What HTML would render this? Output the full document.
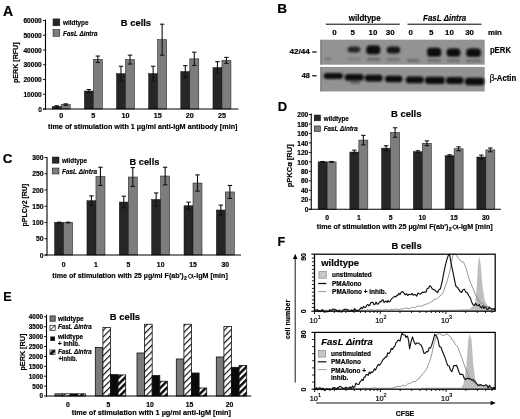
<!DOCTYPE html>
<html><head><meta charset="utf-8"><style>
html,body{margin:0;padding:0;background:#fff;width:520px;height:419px;overflow:hidden}
svg{display:block;filter:blur(0.35px)}
text{font-family:"Liberation Sans",sans-serif;stroke:#000;stroke-width:0.18px}
</style></head><body>
<svg width="520" height="419" viewBox="0 0 520 419" font-family="Liberation Sans, sans-serif">
<rect width="520" height="419" fill="#fff"/>
<text x="3.00" y="15.50" font-size="14" font-weight="bold">A</text>
<rect x="52.20" y="106.49" width="9.00" height="2.51" fill="#262626" stroke="#111" stroke-width="0.5"/>
<line x1="56.70" y1="105.76" x2="56.70" y2="107.23" stroke="#111" stroke-width="1.1"/>
<line x1="54.50" y1="105.76" x2="58.90" y2="105.76" stroke="#111" stroke-width="1.1"/>
<line x1="54.50" y1="107.23" x2="58.90" y2="107.23" stroke="#111" stroke-width="1.1"/>
<rect x="61.20" y="104.58" width="9.00" height="4.42" fill="#7d7d7d" stroke="#111" stroke-width="0.5"/>
<line x1="65.70" y1="103.84" x2="65.70" y2="105.31" stroke="#111" stroke-width="1.1"/>
<line x1="63.50" y1="103.84" x2="67.90" y2="103.84" stroke="#111" stroke-width="1.1"/>
<line x1="63.50" y1="105.31" x2="67.90" y2="105.31" stroke="#111" stroke-width="1.1"/>
<rect x="84.35" y="91.00" width="9.00" height="18.00" fill="#262626" stroke="#111" stroke-width="0.5"/>
<line x1="88.85" y1="89.53" x2="88.85" y2="92.48" stroke="#111" stroke-width="1.1"/>
<line x1="86.65" y1="89.53" x2="91.05" y2="89.53" stroke="#111" stroke-width="1.1"/>
<line x1="86.65" y1="92.48" x2="91.05" y2="92.48" stroke="#111" stroke-width="1.1"/>
<rect x="93.35" y="59.29" width="9.00" height="49.71" fill="#7d7d7d" stroke="#111" stroke-width="0.5"/>
<line x1="97.85" y1="56.05" x2="97.85" y2="62.54" stroke="#111" stroke-width="1.1"/>
<line x1="95.65" y1="56.05" x2="100.05" y2="56.05" stroke="#111" stroke-width="1.1"/>
<line x1="95.65" y1="62.54" x2="100.05" y2="62.54" stroke="#111" stroke-width="1.1"/>
<rect x="116.50" y="73.60" width="9.00" height="35.40" fill="#262626" stroke="#111" stroke-width="0.5"/>
<line x1="121.00" y1="66.22" x2="121.00" y2="80.97" stroke="#111" stroke-width="1.1"/>
<line x1="118.80" y1="66.22" x2="123.20" y2="66.22" stroke="#111" stroke-width="1.1"/>
<line x1="118.80" y1="80.97" x2="123.20" y2="80.97" stroke="#111" stroke-width="1.1"/>
<rect x="125.50" y="59.59" width="9.00" height="49.41" fill="#7d7d7d" stroke="#111" stroke-width="0.5"/>
<line x1="130.00" y1="55.16" x2="130.00" y2="64.01" stroke="#111" stroke-width="1.1"/>
<line x1="127.80" y1="55.16" x2="132.20" y2="55.16" stroke="#111" stroke-width="1.1"/>
<line x1="127.80" y1="64.01" x2="132.20" y2="64.01" stroke="#111" stroke-width="1.1"/>
<rect x="148.65" y="73.60" width="9.00" height="35.40" fill="#262626" stroke="#111" stroke-width="0.5"/>
<line x1="153.15" y1="66.22" x2="153.15" y2="80.97" stroke="#111" stroke-width="1.1"/>
<line x1="150.95" y1="66.22" x2="155.35" y2="66.22" stroke="#111" stroke-width="1.1"/>
<line x1="150.95" y1="80.97" x2="155.35" y2="80.97" stroke="#111" stroke-width="1.1"/>
<rect x="157.65" y="39.67" width="9.00" height="69.33" fill="#7d7d7d" stroke="#111" stroke-width="0.5"/>
<line x1="162.15" y1="24.19" x2="162.15" y2="55.16" stroke="#111" stroke-width="1.1"/>
<line x1="159.95" y1="24.19" x2="164.35" y2="24.19" stroke="#111" stroke-width="1.1"/>
<line x1="159.95" y1="55.16" x2="164.35" y2="55.16" stroke="#111" stroke-width="1.1"/>
<rect x="180.80" y="71.53" width="9.00" height="37.47" fill="#262626" stroke="#111" stroke-width="0.5"/>
<line x1="185.30" y1="65.63" x2="185.30" y2="77.44" stroke="#111" stroke-width="1.1"/>
<line x1="183.10" y1="65.63" x2="187.50" y2="65.63" stroke="#111" stroke-width="1.1"/>
<line x1="183.10" y1="77.44" x2="187.50" y2="77.44" stroke="#111" stroke-width="1.1"/>
<rect x="189.80" y="58.85" width="9.00" height="50.15" fill="#7d7d7d" stroke="#111" stroke-width="0.5"/>
<line x1="194.30" y1="52.21" x2="194.30" y2="65.49" stroke="#111" stroke-width="1.1"/>
<line x1="192.10" y1="52.21" x2="196.50" y2="52.21" stroke="#111" stroke-width="1.1"/>
<line x1="192.10" y1="65.49" x2="196.50" y2="65.49" stroke="#111" stroke-width="1.1"/>
<rect x="212.95" y="67.55" width="9.00" height="41.45" fill="#262626" stroke="#111" stroke-width="0.5"/>
<line x1="217.45" y1="61.65" x2="217.45" y2="73.45" stroke="#111" stroke-width="1.1"/>
<line x1="215.25" y1="61.65" x2="219.65" y2="61.65" stroke="#111" stroke-width="1.1"/>
<line x1="215.25" y1="73.45" x2="219.65" y2="73.45" stroke="#111" stroke-width="1.1"/>
<rect x="221.95" y="60.33" width="9.00" height="48.67" fill="#7d7d7d" stroke="#111" stroke-width="0.5"/>
<line x1="226.45" y1="57.38" x2="226.45" y2="63.28" stroke="#111" stroke-width="1.1"/>
<line x1="224.25" y1="57.38" x2="228.65" y2="57.38" stroke="#111" stroke-width="1.1"/>
<line x1="224.25" y1="63.28" x2="228.65" y2="63.28" stroke="#111" stroke-width="1.1"/>
<line x1="45.50" y1="19.50" x2="45.50" y2="109.50" stroke="#000" stroke-width="1.1"/>
<line x1="43.00" y1="109.00" x2="238.50" y2="109.00" stroke="#000" stroke-width="1.1"/>
<line x1="43.00" y1="109.00" x2="45.50" y2="109.00" stroke="#000" stroke-width="0.9"/>
<text x="41.80" y="111.64" font-size="6.6" font-weight="bold" text-anchor="end">0</text>
<line x1="43.00" y1="94.25" x2="45.50" y2="94.25" stroke="#000" stroke-width="0.9"/>
<text x="41.80" y="96.89" font-size="6.6" font-weight="bold" text-anchor="end">10000</text>
<line x1="43.00" y1="79.50" x2="45.50" y2="79.50" stroke="#000" stroke-width="0.9"/>
<text x="41.80" y="82.14" font-size="6.6" font-weight="bold" text-anchor="end">20000</text>
<line x1="43.00" y1="64.75" x2="45.50" y2="64.75" stroke="#000" stroke-width="0.9"/>
<text x="41.80" y="67.39" font-size="6.6" font-weight="bold" text-anchor="end">30000</text>
<line x1="43.00" y1="50.00" x2="45.50" y2="50.00" stroke="#000" stroke-width="0.9"/>
<text x="41.80" y="52.64" font-size="6.6" font-weight="bold" text-anchor="end">40000</text>
<line x1="43.00" y1="35.25" x2="45.50" y2="35.25" stroke="#000" stroke-width="0.9"/>
<text x="41.80" y="37.89" font-size="6.6" font-weight="bold" text-anchor="end">50000</text>
<line x1="43.00" y1="20.50" x2="45.50" y2="20.50" stroke="#000" stroke-width="0.9"/>
<text x="41.80" y="23.14" font-size="6.6" font-weight="bold" text-anchor="end">60000</text>
<rect x="53.00" y="18.90" width="6.80" height="6.90" fill="#262626" stroke="#111" stroke-width="0.5"/>
<rect x="53.00" y="29.50" width="6.80" height="6.80" fill="#7d7d7d" stroke="#111" stroke-width="0.5"/>
<text x="63.00" y="25.40" font-size="7.6" font-weight="bold" textLength="25.5" lengthAdjust="spacingAndGlyphs">wildtype</text>
<text x="63.00" y="36.00" font-size="7.6" font-weight="bold" font-style="italic" textLength="34.5" lengthAdjust="spacingAndGlyphs">FasL Δintra</text>
<text x="120.80" y="26.20" font-size="9.6" font-weight="bold" textLength="30.3" lengthAdjust="spacingAndGlyphs">B cells</text>
<text x="61.20" y="118.00" font-size="7.2" font-weight="bold" text-anchor="middle">0</text>
<text x="93.35" y="118.00" font-size="7.2" font-weight="bold" text-anchor="middle">5</text>
<text x="125.50" y="118.00" font-size="7.2" font-weight="bold" text-anchor="middle">10</text>
<text x="157.65" y="118.00" font-size="7.2" font-weight="bold" text-anchor="middle">15</text>
<text x="189.80" y="118.00" font-size="7.2" font-weight="bold" text-anchor="middle">20</text>
<text x="221.95" y="118.00" font-size="7.2" font-weight="bold" text-anchor="middle">25</text>
<text x="48.00" y="129.40" font-size="7.9" font-weight="bold" textLength="189.5" lengthAdjust="spacingAndGlyphs">time of stimulation with 1 µg/ml anti-IgM antibody [min]</text>
<text x="18.20" y="83.00" font-size="7.3" font-weight="bold" textLength="40.6" lengthAdjust="spacingAndGlyphs" transform="rotate(-90 18.20 83.00)">pERK [RFU]</text>
<text x="277.30" y="13.30" font-size="13.6" font-weight="bold">B</text>
<text x="348.80" y="21.20" font-size="8.4" font-weight="bold" textLength="31.8" lengthAdjust="spacingAndGlyphs">wildtype</text>
<line x1="325.80" y1="24.20" x2="399.80" y2="24.20" stroke="#000" stroke-width="1.0"/>
<text x="423.10" y="20.70" font-size="8.4" font-weight="bold" font-style="italic" textLength="43.1" lengthAdjust="spacingAndGlyphs">FasL Δintra</text>
<line x1="407.50" y1="24.20" x2="481.50" y2="24.20" stroke="#000" stroke-width="1.0"/>
<text x="334.40" y="35.10" font-size="7.9" font-weight="bold" text-anchor="middle">0</text>
<text x="352.70" y="35.10" font-size="7.9" font-weight="bold" text-anchor="middle">5</text>
<text x="372.90" y="35.10" font-size="7.9" font-weight="bold" text-anchor="middle">10</text>
<text x="390.20" y="35.10" font-size="7.9" font-weight="bold" text-anchor="middle">30</text>
<text x="410.80" y="35.10" font-size="7.9" font-weight="bold" text-anchor="middle">0</text>
<text x="431.20" y="35.10" font-size="7.9" font-weight="bold" text-anchor="middle">5</text>
<text x="449.40" y="35.10" font-size="7.9" font-weight="bold" text-anchor="middle">10</text>
<text x="469.60" y="35.10" font-size="7.9" font-weight="bold" text-anchor="middle">30</text>
<text x="487.90" y="35.10" font-size="7.9" font-weight="bold" textLength="14" lengthAdjust="spacingAndGlyphs">min</text>
<text x="289.50" y="53.90" font-size="7.4" font-weight="bold" textLength="20.3" lengthAdjust="spacingAndGlyphs">42/44</text>
<line x1="312.20" y1="52.00" x2="316.60" y2="52.00" stroke="#000" stroke-width="1.2"/>
<text x="301.70" y="78.30" font-size="7.4" font-weight="bold" textLength="8.1" lengthAdjust="spacingAndGlyphs">48</text>
<line x1="312.20" y1="75.80" x2="316.60" y2="75.80" stroke="#000" stroke-width="1.2"/>
<text x="489.90" y="53.40" font-size="8.6" font-weight="bold" textLength="21.1" lengthAdjust="spacingAndGlyphs">pERK</text>
<text x="489.7" y="81" font-size="8.2" font-family="Liberation Serif, serif">β</text>
<text x="494.20" y="80.90" font-size="8.4" font-weight="bold" textLength="22.1" lengthAdjust="spacingAndGlyphs">-Actin</text>
<defs><filter id="bl" x="-20%" y="-50%" width="140%" height="200%"><feGaussianBlur stdDeviation="0.9"/></filter><filter id="bl2" x="-20%" y="-50%" width="140%" height="200%"><feGaussianBlur stdDeviation="0.6"/></filter></defs>
<rect x="320.40" y="39.70" width="164.30" height="25.00" fill="#939393"/>
<rect x="320.40" y="66.90" width="164.30" height="24.60" fill="#939393"/>
<rect x="320.4" y="39.7" width="1.2" height="25" fill="#7a7a7a"/>
<rect x="320.4" y="66.9" width="1.2" height="24.6" fill="#7a7a7a"/>
<g filter="url(#bl)">
<rect x="347.6" y="46.50" width="12.70" height="6.0" rx="3.5" fill="#262626"/>
<rect x="366.3" y="45.40" width="14.00" height="8.8" rx="3.5" fill="#0a0a0a"/>
<rect x="386.7" y="46.40" width="13.50" height="7.2" rx="3.5" fill="#141414"/>
<rect x="427.0" y="47.80" width="14.20" height="9.0" rx="3.5" fill="#0a0a0a"/>
<rect x="446.6" y="48.40" width="13.80" height="8.4" rx="3.5" fill="#0c0c0c"/>
<rect x="466.2" y="48.50" width="14.70" height="8.6" rx="3.5" fill="#0a0a0a"/>
<rect x="325.5" y="57.70" width="5.50" height="2.6" rx="1" fill="#6e6e6e"/>
<rect x="348" y="57.90" width="12.00" height="2.6" rx="1" fill="#7c7c7c"/>
<rect x="367" y="58.00" width="13.00" height="2.6" rx="1" fill="#626262"/>
<rect x="387" y="58.20" width="13.00" height="2.6" rx="1" fill="#6c6c6c"/>
<rect x="407" y="59.20" width="12.50" height="2.6" rx="1" fill="#666666"/>
<rect x="427" y="59.20" width="14.00" height="2.6" rx="1" fill="#6a6a6a"/>
<rect x="447" y="59.30" width="13.00" height="2.6" rx="1" fill="#6e6e6e"/>
<rect x="466" y="59.50" width="15.00" height="2.6" rx="1" fill="#686868"/>
<rect x="323.7" y="73.05" width="19.30" height="5.9" rx="3" fill="#0c0c0c"/>
<rect x="344.7" y="73.95" width="18.90" height="6.7" rx="3" fill="#0c0c0c"/>
<rect x="364.8" y="74.85" width="17.80" height="6.7" rx="3" fill="#0c0c0c"/>
<rect x="385" y="75.75" width="17.50" height="6.5" rx="3" fill="#0c0c0c"/>
<rect x="405.8" y="76.45" width="17.90" height="6.9" rx="3" fill="#0c0c0c"/>
<rect x="425" y="76.85" width="19.80" height="7.1" rx="3" fill="#0c0c0c"/>
<rect x="446" y="76.95" width="17.50" height="7.1" rx="3" fill="#0c0c0c"/>
<rect x="465" y="77.75" width="19.40" height="7.5" rx="3" fill="#0c0c0c"/>
<ellipse cx="355" cy="82.3" rx="5.5" ry="1.2" fill="#555"/>
</g>
<text x="2.80" y="163.30" font-size="13.4" font-weight="bold">C</text>
<rect x="54.60" y="222.50" width="9.00" height="32.50" fill="#262626" stroke="#111" stroke-width="0.5"/>
<line x1="59.10" y1="222.18" x2="59.10" y2="222.82" stroke="#111" stroke-width="1.1"/>
<line x1="56.90" y1="222.18" x2="61.30" y2="222.18" stroke="#111" stroke-width="1.1"/>
<line x1="56.90" y1="222.82" x2="61.30" y2="222.82" stroke="#111" stroke-width="1.1"/>
<rect x="63.60" y="222.50" width="9.00" height="32.50" fill="#7d7d7d" stroke="#111" stroke-width="0.5"/>
<line x1="68.10" y1="222.18" x2="68.10" y2="222.82" stroke="#111" stroke-width="1.1"/>
<line x1="65.90" y1="222.18" x2="70.30" y2="222.18" stroke="#111" stroke-width="1.1"/>
<line x1="65.90" y1="222.82" x2="70.30" y2="222.82" stroke="#111" stroke-width="1.1"/>
<rect x="86.95" y="200.72" width="9.00" height="54.28" fill="#262626" stroke="#111" stroke-width="0.5"/>
<line x1="91.45" y1="195.85" x2="91.45" y2="205.60" stroke="#111" stroke-width="1.1"/>
<line x1="89.25" y1="195.85" x2="93.65" y2="195.85" stroke="#111" stroke-width="1.1"/>
<line x1="89.25" y1="205.60" x2="93.65" y2="205.60" stroke="#111" stroke-width="1.1"/>
<rect x="95.95" y="176.35" width="9.00" height="78.65" fill="#7d7d7d" stroke="#111" stroke-width="0.5"/>
<line x1="100.45" y1="167.25" x2="100.45" y2="185.45" stroke="#111" stroke-width="1.1"/>
<line x1="98.25" y1="167.25" x2="102.65" y2="167.25" stroke="#111" stroke-width="1.1"/>
<line x1="98.25" y1="185.45" x2="102.65" y2="185.45" stroke="#111" stroke-width="1.1"/>
<rect x="119.30" y="202.03" width="9.00" height="52.97" fill="#262626" stroke="#111" stroke-width="0.5"/>
<line x1="123.80" y1="196.18" x2="123.80" y2="207.88" stroke="#111" stroke-width="1.1"/>
<line x1="121.60" y1="196.18" x2="126.00" y2="196.18" stroke="#111" stroke-width="1.1"/>
<line x1="121.60" y1="207.88" x2="126.00" y2="207.88" stroke="#111" stroke-width="1.1"/>
<rect x="128.30" y="177.00" width="9.00" height="78.00" fill="#7d7d7d" stroke="#111" stroke-width="0.5"/>
<line x1="132.80" y1="167.57" x2="132.80" y2="186.43" stroke="#111" stroke-width="1.1"/>
<line x1="130.60" y1="167.57" x2="135.00" y2="167.57" stroke="#111" stroke-width="1.1"/>
<line x1="130.60" y1="186.43" x2="135.00" y2="186.43" stroke="#111" stroke-width="1.1"/>
<rect x="151.65" y="199.43" width="9.00" height="55.57" fill="#262626" stroke="#111" stroke-width="0.5"/>
<line x1="156.15" y1="192.93" x2="156.15" y2="205.93" stroke="#111" stroke-width="1.1"/>
<line x1="153.95" y1="192.93" x2="158.35" y2="192.93" stroke="#111" stroke-width="1.1"/>
<line x1="153.95" y1="205.93" x2="158.35" y2="205.93" stroke="#111" stroke-width="1.1"/>
<rect x="160.65" y="176.02" width="9.00" height="78.98" fill="#7d7d7d" stroke="#111" stroke-width="0.5"/>
<line x1="165.15" y1="167.25" x2="165.15" y2="184.80" stroke="#111" stroke-width="1.1"/>
<line x1="162.95" y1="167.25" x2="167.35" y2="167.25" stroke="#111" stroke-width="1.1"/>
<line x1="162.95" y1="184.80" x2="167.35" y2="184.80" stroke="#111" stroke-width="1.1"/>
<rect x="184.00" y="205.76" width="9.00" height="49.24" fill="#262626" stroke="#111" stroke-width="0.5"/>
<line x1="188.50" y1="202.19" x2="188.50" y2="209.34" stroke="#111" stroke-width="1.1"/>
<line x1="186.30" y1="202.19" x2="190.70" y2="202.19" stroke="#111" stroke-width="1.1"/>
<line x1="186.30" y1="209.34" x2="190.70" y2="209.34" stroke="#111" stroke-width="1.1"/>
<rect x="193.00" y="183.01" width="9.00" height="71.99" fill="#7d7d7d" stroke="#111" stroke-width="0.5"/>
<line x1="197.50" y1="174.89" x2="197.50" y2="191.14" stroke="#111" stroke-width="1.1"/>
<line x1="195.30" y1="174.89" x2="199.70" y2="174.89" stroke="#111" stroke-width="1.1"/>
<line x1="195.30" y1="191.14" x2="199.70" y2="191.14" stroke="#111" stroke-width="1.1"/>
<rect x="216.35" y="209.99" width="9.00" height="45.01" fill="#262626" stroke="#111" stroke-width="0.5"/>
<line x1="220.85" y1="205.11" x2="220.85" y2="214.86" stroke="#111" stroke-width="1.1"/>
<line x1="218.65" y1="205.11" x2="223.05" y2="205.11" stroke="#111" stroke-width="1.1"/>
<line x1="218.65" y1="214.86" x2="223.05" y2="214.86" stroke="#111" stroke-width="1.1"/>
<rect x="225.35" y="191.95" width="9.00" height="63.05" fill="#7d7d7d" stroke="#111" stroke-width="0.5"/>
<line x1="229.85" y1="185.45" x2="229.85" y2="198.45" stroke="#111" stroke-width="1.1"/>
<line x1="227.65" y1="185.45" x2="232.05" y2="185.45" stroke="#111" stroke-width="1.1"/>
<line x1="227.65" y1="198.45" x2="232.05" y2="198.45" stroke="#111" stroke-width="1.1"/>
<line x1="47.00" y1="157.00" x2="47.00" y2="255.50" stroke="#000" stroke-width="1.1"/>
<line x1="44.50" y1="255.00" x2="241.00" y2="255.00" stroke="#000" stroke-width="1.1"/>
<line x1="44.50" y1="255.00" x2="47.00" y2="255.00" stroke="#000" stroke-width="0.9"/>
<text x="43.50" y="257.72" font-size="6.8" font-weight="bold" text-anchor="end">0</text>
<line x1="44.50" y1="238.75" x2="47.00" y2="238.75" stroke="#000" stroke-width="0.9"/>
<text x="43.50" y="241.47" font-size="6.8" font-weight="bold" text-anchor="end">50</text>
<line x1="44.50" y1="222.50" x2="47.00" y2="222.50" stroke="#000" stroke-width="0.9"/>
<text x="43.50" y="225.22" font-size="6.8" font-weight="bold" text-anchor="end">100</text>
<line x1="44.50" y1="206.25" x2="47.00" y2="206.25" stroke="#000" stroke-width="0.9"/>
<text x="43.50" y="208.97" font-size="6.8" font-weight="bold" text-anchor="end">150</text>
<line x1="44.50" y1="190.00" x2="47.00" y2="190.00" stroke="#000" stroke-width="0.9"/>
<text x="43.50" y="192.72" font-size="6.8" font-weight="bold" text-anchor="end">200</text>
<line x1="44.50" y1="173.75" x2="47.00" y2="173.75" stroke="#000" stroke-width="0.9"/>
<text x="43.50" y="176.47" font-size="6.8" font-weight="bold" text-anchor="end">250</text>
<line x1="44.50" y1="157.50" x2="47.00" y2="157.50" stroke="#000" stroke-width="0.9"/>
<text x="43.50" y="160.22" font-size="6.8" font-weight="bold" text-anchor="end">300</text>
<rect x="52.20" y="157.00" width="6.80" height="6.20" fill="#262626" stroke="#111" stroke-width="0.5"/>
<rect x="52.20" y="168.00" width="6.80" height="6.00" fill="#7d7d7d" stroke="#111" stroke-width="0.5"/>
<text x="62.00" y="163.00" font-size="7.6" font-weight="bold" textLength="25" lengthAdjust="spacingAndGlyphs">wildtype</text>
<text x="62.00" y="173.60" font-size="7.6" font-weight="bold" font-style="italic" textLength="35" lengthAdjust="spacingAndGlyphs">FasL Δintra</text>
<text x="129.60" y="164.50" font-size="9.6" font-weight="bold" textLength="29.8" lengthAdjust="spacingAndGlyphs">B cells</text>
<text x="63.60" y="266.50" font-size="6.8" font-weight="bold" text-anchor="middle">0</text>
<text x="95.95" y="266.50" font-size="6.8" font-weight="bold" text-anchor="middle">1</text>
<text x="128.30" y="266.50" font-size="6.8" font-weight="bold" text-anchor="middle">5</text>
<text x="160.65" y="266.50" font-size="6.8" font-weight="bold" text-anchor="middle">10</text>
<text x="193.00" y="266.50" font-size="6.8" font-weight="bold" text-anchor="middle">15</text>
<text x="225.35" y="266.50" font-size="6.8" font-weight="bold" text-anchor="middle">30</text>
<text x="52.30" y="278.40" font-size="7.9" font-weight="bold" textLength="131.4" lengthAdjust="spacingAndGlyphs">time of stimulation with 25 µg/ml F(ab')</text>
<text x="184.10" y="280.00" font-size="5.2" font-weight="bold">2</text>
<path d="M192.80,274.10 C192.20,277.20 192.60,278.40 193.90,278.10 M192.40,276.10 C191.70,273.90 188.30,273.70 188.40,276.40 C188.50,278.90 191.80,278.70 192.40,276.10" fill="none" stroke="#000" stroke-width="0.95"/>
<text x="193.80" y="278.40" font-size="7.9" font-weight="bold" textLength="34.0" lengthAdjust="spacingAndGlyphs">-IgM [min]</text>
<text x="27.20" y="226.40" font-size="7.2" font-weight="bold" textLength="42.6" lengthAdjust="spacingAndGlyphs" transform="rotate(-90 27.20 226.40)">pPLCγ2 [RU]</text>
<text x="277.80" y="111.40" font-size="13.0" font-weight="bold">D</text>
<rect x="318.10" y="161.88" width="9.00" height="47.38" fill="#262626" stroke="#111" stroke-width="0.5"/>
<line x1="322.60" y1="161.50" x2="322.60" y2="162.25" stroke="#111" stroke-width="1.1"/>
<line x1="320.40" y1="161.50" x2="324.80" y2="161.50" stroke="#111" stroke-width="1.1"/>
<line x1="320.40" y1="162.25" x2="324.80" y2="162.25" stroke="#111" stroke-width="1.1"/>
<rect x="327.10" y="161.88" width="9.00" height="47.38" fill="#7d7d7d" stroke="#111" stroke-width="0.5"/>
<line x1="331.60" y1="161.50" x2="331.60" y2="162.25" stroke="#111" stroke-width="1.1"/>
<line x1="329.40" y1="161.50" x2="333.80" y2="161.50" stroke="#111" stroke-width="1.1"/>
<line x1="329.40" y1="162.25" x2="333.80" y2="162.25" stroke="#111" stroke-width="1.1"/>
<rect x="349.85" y="152.02" width="9.00" height="57.23" fill="#262626" stroke="#111" stroke-width="0.5"/>
<line x1="354.35" y1="150.13" x2="354.35" y2="153.92" stroke="#111" stroke-width="1.1"/>
<line x1="352.15" y1="150.13" x2="356.55" y2="150.13" stroke="#111" stroke-width="1.1"/>
<line x1="352.15" y1="153.92" x2="356.55" y2="153.92" stroke="#111" stroke-width="1.1"/>
<rect x="358.85" y="140.08" width="9.00" height="69.17" fill="#7d7d7d" stroke="#111" stroke-width="0.5"/>
<line x1="363.35" y1="135.34" x2="363.35" y2="144.82" stroke="#111" stroke-width="1.1"/>
<line x1="361.15" y1="135.34" x2="365.55" y2="135.34" stroke="#111" stroke-width="1.1"/>
<line x1="361.15" y1="144.82" x2="365.55" y2="144.82" stroke="#111" stroke-width="1.1"/>
<rect x="381.60" y="148.14" width="9.00" height="61.11" fill="#262626" stroke="#111" stroke-width="0.5"/>
<line x1="386.10" y1="145.77" x2="386.10" y2="150.50" stroke="#111" stroke-width="1.1"/>
<line x1="383.90" y1="145.77" x2="388.30" y2="145.77" stroke="#111" stroke-width="1.1"/>
<line x1="383.90" y1="150.50" x2="388.30" y2="150.50" stroke="#111" stroke-width="1.1"/>
<rect x="390.60" y="132.50" width="9.00" height="76.75" fill="#7d7d7d" stroke="#111" stroke-width="0.5"/>
<line x1="395.10" y1="127.77" x2="395.10" y2="137.24" stroke="#111" stroke-width="1.1"/>
<line x1="392.90" y1="127.77" x2="397.30" y2="127.77" stroke="#111" stroke-width="1.1"/>
<line x1="392.90" y1="137.24" x2="397.30" y2="137.24" stroke="#111" stroke-width="1.1"/>
<rect x="413.35" y="151.74" width="9.00" height="57.51" fill="#262626" stroke="#111" stroke-width="0.5"/>
<line x1="417.85" y1="150.79" x2="417.85" y2="152.68" stroke="#111" stroke-width="1.1"/>
<line x1="415.65" y1="150.79" x2="420.05" y2="150.79" stroke="#111" stroke-width="1.1"/>
<line x1="415.65" y1="152.68" x2="420.05" y2="152.68" stroke="#111" stroke-width="1.1"/>
<rect x="422.35" y="143.26" width="9.00" height="65.99" fill="#7d7d7d" stroke="#111" stroke-width="0.5"/>
<line x1="426.85" y1="140.89" x2="426.85" y2="145.63" stroke="#111" stroke-width="1.1"/>
<line x1="424.65" y1="140.89" x2="429.05" y2="140.89" stroke="#111" stroke-width="1.1"/>
<line x1="424.65" y1="145.63" x2="429.05" y2="145.63" stroke="#111" stroke-width="1.1"/>
<rect x="445.10" y="155.72" width="9.00" height="53.53" fill="#262626" stroke="#111" stroke-width="0.5"/>
<line x1="449.60" y1="154.77" x2="449.60" y2="156.66" stroke="#111" stroke-width="1.1"/>
<line x1="447.40" y1="154.77" x2="451.80" y2="154.77" stroke="#111" stroke-width="1.1"/>
<line x1="447.40" y1="156.66" x2="451.80" y2="156.66" stroke="#111" stroke-width="1.1"/>
<rect x="454.10" y="148.75" width="9.00" height="60.50" fill="#7d7d7d" stroke="#111" stroke-width="0.5"/>
<line x1="458.60" y1="146.86" x2="458.60" y2="150.65" stroke="#111" stroke-width="1.1"/>
<line x1="456.40" y1="146.86" x2="460.80" y2="146.86" stroke="#111" stroke-width="1.1"/>
<line x1="456.40" y1="150.65" x2="460.80" y2="150.65" stroke="#111" stroke-width="1.1"/>
<rect x="476.85" y="157.00" width="9.00" height="52.25" fill="#262626" stroke="#111" stroke-width="0.5"/>
<line x1="481.35" y1="155.10" x2="481.35" y2="158.89" stroke="#111" stroke-width="1.1"/>
<line x1="479.15" y1="155.10" x2="483.55" y2="155.10" stroke="#111" stroke-width="1.1"/>
<line x1="479.15" y1="158.89" x2="483.55" y2="158.89" stroke="#111" stroke-width="1.1"/>
<rect x="485.85" y="149.89" width="9.00" height="59.36" fill="#7d7d7d" stroke="#111" stroke-width="0.5"/>
<line x1="490.35" y1="147.99" x2="490.35" y2="151.78" stroke="#111" stroke-width="1.1"/>
<line x1="488.15" y1="147.99" x2="492.55" y2="147.99" stroke="#111" stroke-width="1.1"/>
<line x1="488.15" y1="151.78" x2="492.55" y2="151.78" stroke="#111" stroke-width="1.1"/>
<line x1="311.25" y1="113.50" x2="311.25" y2="209.75" stroke="#000" stroke-width="1.1"/>
<line x1="308.75" y1="209.25" x2="501.00" y2="209.25" stroke="#000" stroke-width="1.1"/>
<line x1="308.75" y1="209.25" x2="311.25" y2="209.25" stroke="#000" stroke-width="0.9"/>
<text x="308.30" y="211.89" font-size="6.6" font-weight="bold" text-anchor="end">0</text>
<line x1="308.75" y1="199.78" x2="311.25" y2="199.78" stroke="#000" stroke-width="0.9"/>
<text x="308.30" y="202.41" font-size="6.6" font-weight="bold" text-anchor="end">20</text>
<line x1="308.75" y1="190.30" x2="311.25" y2="190.30" stroke="#000" stroke-width="0.9"/>
<text x="308.30" y="192.94" font-size="6.6" font-weight="bold" text-anchor="end">40</text>
<line x1="308.75" y1="180.82" x2="311.25" y2="180.82" stroke="#000" stroke-width="0.9"/>
<text x="308.30" y="183.46" font-size="6.6" font-weight="bold" text-anchor="end">60</text>
<line x1="308.75" y1="171.35" x2="311.25" y2="171.35" stroke="#000" stroke-width="0.9"/>
<text x="308.30" y="173.99" font-size="6.6" font-weight="bold" text-anchor="end">80</text>
<line x1="308.75" y1="161.88" x2="311.25" y2="161.88" stroke="#000" stroke-width="0.9"/>
<text x="308.30" y="164.51" font-size="6.6" font-weight="bold" text-anchor="end">100</text>
<line x1="308.75" y1="152.40" x2="311.25" y2="152.40" stroke="#000" stroke-width="0.9"/>
<text x="308.30" y="155.04" font-size="6.6" font-weight="bold" text-anchor="end">120</text>
<line x1="308.75" y1="142.93" x2="311.25" y2="142.93" stroke="#000" stroke-width="0.9"/>
<text x="308.30" y="145.56" font-size="6.6" font-weight="bold" text-anchor="end">140</text>
<line x1="308.75" y1="133.45" x2="311.25" y2="133.45" stroke="#000" stroke-width="0.9"/>
<text x="308.30" y="136.09" font-size="6.6" font-weight="bold" text-anchor="end">160</text>
<line x1="308.75" y1="123.97" x2="311.25" y2="123.97" stroke="#000" stroke-width="0.9"/>
<text x="308.30" y="126.61" font-size="6.6" font-weight="bold" text-anchor="end">180</text>
<line x1="308.75" y1="114.50" x2="311.25" y2="114.50" stroke="#000" stroke-width="0.9"/>
<text x="308.30" y="117.14" font-size="6.6" font-weight="bold" text-anchor="end">200</text>
<rect x="314.20" y="115.00" width="6.40" height="5.80" fill="#262626" stroke="#111" stroke-width="0.5"/>
<rect x="314.20" y="125.90" width="6.40" height="5.80" fill="#7d7d7d" stroke="#111" stroke-width="0.5"/>
<text x="323.80" y="120.60" font-size="7.6" font-weight="bold" textLength="25" lengthAdjust="spacingAndGlyphs">wildtype</text>
<text x="323.80" y="131.20" font-size="7.6" font-weight="bold" font-style="italic" textLength="34" lengthAdjust="spacingAndGlyphs">FasL Δintra</text>
<text x="391.00" y="117.30" font-size="9.6" font-weight="bold" textLength="30.5" lengthAdjust="spacingAndGlyphs">B cells</text>
<text x="327.10" y="220.20" font-size="6.8" font-weight="bold" text-anchor="middle">0</text>
<text x="358.85" y="220.20" font-size="6.8" font-weight="bold" text-anchor="middle">1</text>
<text x="390.60" y="220.20" font-size="6.8" font-weight="bold" text-anchor="middle">5</text>
<text x="422.35" y="220.20" font-size="6.8" font-weight="bold" text-anchor="middle">10</text>
<text x="454.10" y="220.20" font-size="6.8" font-weight="bold" text-anchor="middle">15</text>
<text x="485.85" y="220.20" font-size="6.8" font-weight="bold" text-anchor="middle">30</text>
<text x="316.80" y="229.20" font-size="7.9" font-weight="bold" textLength="131.6" lengthAdjust="spacingAndGlyphs">time of stimulation with 25 µg/ml F(ab')</text>
<text x="448.80" y="230.80" font-size="5.2" font-weight="bold">2</text>
<path d="M457.50,224.90 C456.90,228.00 457.30,229.20 458.60,228.90 M457.10,226.90 C456.40,224.70 453.00,224.50 453.10,227.20 C453.20,229.70 456.50,229.50 457.10,226.90" fill="none" stroke="#000" stroke-width="0.95"/>
<text x="458.50" y="229.20" font-size="7.9" font-weight="bold" textLength="34.2" lengthAdjust="spacingAndGlyphs">-IgM [min]</text>
<text x="291.80" y="187.30" font-size="7.0" font-weight="bold" textLength="43.0" lengthAdjust="spacingAndGlyphs" transform="rotate(-90 291.80 187.30)">pPKCα [RU]</text>
<text x="3.20" y="301.30" font-size="12.6" font-weight="bold">E</text>
<defs><pattern id="h1" patternUnits="userSpaceOnUse" width="4.5" height="4.5" patternTransform="rotate(45)"><rect width="4.5" height="4.5" fill="#fff"/><rect x="0" width="1.15" height="4.5" fill="#111"/></pattern><pattern id="h2" patternUnits="userSpaceOnUse" width="4.6" height="4.6" patternTransform="rotate(45)"><rect width="4.6" height="4.6" fill="#fff"/><rect x="0" width="2.5" height="4.6" fill="#0a0a0a"/></pattern></defs>
<rect x="55.00" y="393.82" width="7.60" height="2.18" fill="#7a7a7a" stroke="#111" stroke-width="0.8"/>
<rect x="62.60" y="393.82" width="7.60" height="2.18" fill="url(#h1)" stroke="#111" stroke-width="0.8"/>
<rect x="70.20" y="393.82" width="7.60" height="2.18" fill="#0a0a0a" stroke="#111" stroke-width="0.8"/>
<rect x="77.80" y="393.82" width="7.60" height="2.18" fill="url(#h2)" stroke="#111" stroke-width="0.8"/>
<rect x="95.30" y="347.49" width="7.60" height="48.51" fill="#7a7a7a" stroke="#111" stroke-width="0.8"/>
<rect x="102.90" y="327.49" width="7.60" height="68.51" fill="url(#h1)" stroke="#111" stroke-width="0.8"/>
<rect x="110.50" y="374.62" width="7.60" height="21.38" fill="#0a0a0a" stroke="#111" stroke-width="0.8"/>
<rect x="118.10" y="374.91" width="7.60" height="21.09" fill="url(#h2)" stroke="#111" stroke-width="0.8"/>
<rect x="137.00" y="352.99" width="7.60" height="43.01" fill="#7a7a7a" stroke="#111" stroke-width="0.8"/>
<rect x="144.60" y="324.24" width="7.60" height="71.76" fill="url(#h1)" stroke="#111" stroke-width="0.8"/>
<rect x="152.20" y="375.51" width="7.60" height="20.49" fill="#0a0a0a" stroke="#111" stroke-width="0.8"/>
<rect x="159.80" y="381.25" width="7.60" height="14.75" fill="url(#h2)" stroke="#111" stroke-width="0.8"/>
<rect x="176.30" y="358.99" width="7.60" height="37.01" fill="#7a7a7a" stroke="#111" stroke-width="0.8"/>
<rect x="183.90" y="324.24" width="7.60" height="71.76" fill="url(#h1)" stroke="#111" stroke-width="0.8"/>
<rect x="191.50" y="372.99" width="7.60" height="23.01" fill="#0a0a0a" stroke="#111" stroke-width="0.8"/>
<rect x="199.10" y="388.00" width="7.60" height="8.00" fill="url(#h2)" stroke="#111" stroke-width="0.8"/>
<rect x="216.30" y="356.99" width="7.60" height="39.01" fill="#7a7a7a" stroke="#111" stroke-width="0.8"/>
<rect x="223.90" y="326.50" width="7.60" height="69.50" fill="url(#h1)" stroke="#111" stroke-width="0.8"/>
<rect x="231.50" y="367.29" width="7.60" height="28.71" fill="#0a0a0a" stroke="#111" stroke-width="0.8"/>
<rect x="239.10" y="365.51" width="7.60" height="30.49" fill="url(#h2)" stroke="#111" stroke-width="0.8"/>
<line x1="46.50" y1="314.50" x2="46.50" y2="396.50" stroke="#000" stroke-width="1.1"/>
<line x1="46.00" y1="396.00" x2="251.30" y2="396.00" stroke="#000" stroke-width="1.1"/>
<line x1="44.00" y1="396.00" x2="46.50" y2="396.00" stroke="#000" stroke-width="0.9"/>
<text x="43.00" y="398.40" font-size="6.4" font-weight="bold" text-anchor="end">0</text>
<line x1="44.00" y1="386.10" x2="46.50" y2="386.10" stroke="#000" stroke-width="0.9"/>
<text x="43.00" y="388.50" font-size="6.4" font-weight="bold" text-anchor="end">500</text>
<line x1="44.00" y1="376.20" x2="46.50" y2="376.20" stroke="#000" stroke-width="0.9"/>
<text x="43.00" y="378.60" font-size="6.4" font-weight="bold" text-anchor="end">1000</text>
<line x1="44.00" y1="366.30" x2="46.50" y2="366.30" stroke="#000" stroke-width="0.9"/>
<text x="43.00" y="368.70" font-size="6.4" font-weight="bold" text-anchor="end">1500</text>
<line x1="44.00" y1="356.40" x2="46.50" y2="356.40" stroke="#000" stroke-width="0.9"/>
<text x="43.00" y="358.80" font-size="6.4" font-weight="bold" text-anchor="end">2000</text>
<line x1="44.00" y1="346.50" x2="46.50" y2="346.50" stroke="#000" stroke-width="0.9"/>
<text x="43.00" y="348.90" font-size="6.4" font-weight="bold" text-anchor="end">2500</text>
<line x1="44.00" y1="336.60" x2="46.50" y2="336.60" stroke="#000" stroke-width="0.9"/>
<text x="43.00" y="339.00" font-size="6.4" font-weight="bold" text-anchor="end">3000</text>
<line x1="44.00" y1="326.70" x2="46.50" y2="326.70" stroke="#000" stroke-width="0.9"/>
<text x="43.00" y="329.10" font-size="6.4" font-weight="bold" text-anchor="end">3500</text>
<line x1="44.00" y1="316.80" x2="46.50" y2="316.80" stroke="#000" stroke-width="0.9"/>
<text x="43.00" y="319.20" font-size="6.4" font-weight="bold" text-anchor="end">4000</text>
<rect x="50.00" y="315.90" width="5.20" height="5.30" fill="#7a7a7a" stroke="#111" stroke-width="0.7"/>
<rect x="50.00" y="325.30" width="5.20" height="5.00" fill="#fff" stroke="#111" stroke-width="0.7"/>
<line x1="50.30" y1="330.00" x2="55.00" y2="325.60" stroke="#111" stroke-width="1.0"/>
<rect x="50.30" y="336.50" width="4.60" height="4.40" fill="#0a0a0a"/>
<rect x="50.00" y="350.00" width="5.00" height="4.60" fill="#fff" stroke="#111" stroke-width="0.7"/>
<path d="M50,354.6 L50,352.8 L52.6,350 L55,350 L55,351.8 L52.4,354.6 Z" fill="#111"/>
<text x="57.90" y="320.60" font-size="6.6" font-weight="bold" textLength="25.8" lengthAdjust="spacingAndGlyphs">wildtype</text>
<text x="57.90" y="329.10" font-size="6.6" font-weight="bold" font-style="italic" textLength="33.7" lengthAdjust="spacingAndGlyphs">FasL Δintra</text>
<text x="57.90" y="339.20" font-size="6.6" font-weight="bold" textLength="25.1" lengthAdjust="spacingAndGlyphs">wildtype</text>
<text x="58.10" y="346.10" font-size="6.6" font-weight="bold" textLength="21.7" lengthAdjust="spacingAndGlyphs">+ inhib.</text>
<text x="57.90" y="354.00" font-size="6.6" font-weight="bold" font-style="italic" textLength="33.7" lengthAdjust="spacingAndGlyphs">FasL Δintra</text>
<text x="58.50" y="360.50" font-size="6.6" font-weight="bold" textLength="18.7" lengthAdjust="spacingAndGlyphs">+inhib.</text>
<text x="109.80" y="319.90" font-size="9.4" font-weight="bold" textLength="30.3" lengthAdjust="spacingAndGlyphs">B cells</text>
<text x="67.90" y="406.60" font-size="6.8" font-weight="bold" text-anchor="middle">0</text>
<text x="108.30" y="406.60" font-size="6.8" font-weight="bold" text-anchor="middle">5</text>
<text x="150.00" y="406.60" font-size="6.8" font-weight="bold" text-anchor="middle">10</text>
<text x="189.50" y="406.60" font-size="6.8" font-weight="bold" text-anchor="middle">15</text>
<text x="229.50" y="406.60" font-size="6.8" font-weight="bold" text-anchor="middle">20</text>
<text x="71.70" y="414.70" font-size="7.9" font-weight="bold" textLength="159.3" lengthAdjust="spacingAndGlyphs">time of stimulation with 1 µg/ml anti-IgM [min]</text>
<text x="25.00" y="370.60" font-size="7.4" font-weight="bold" textLength="37.0" lengthAdjust="spacingAndGlyphs" transform="rotate(-90 25.00 370.60)">pERK [RU]</text>
<text x="277.60" y="246.40" font-size="12.6" font-weight="bold">F</text>
<text x="391.40" y="249.20" font-size="9.6" font-weight="bold" textLength="30.3" lengthAdjust="spacingAndGlyphs">B cells</text>
<line x1="295.20" y1="258.00" x2="295.20" y2="382.60" stroke="#000" stroke-width="0.9"/>
<path d="M295.2,253.8 L293.0,259 L297.4,259 Z" fill="#000"/>
<line x1="316.00" y1="403.00" x2="492.00" y2="403.00" stroke="#000" stroke-width="0.9"/>
<path d="M495.8,403 L490.6,400.8 L490.6,405.2 Z" fill="#000"/>
<text x="289.70" y="339.20" font-size="6.9" font-weight="bold" textLength="39.5" lengthAdjust="spacingAndGlyphs" transform="rotate(-90 289.70 339.20)">cell number</text>
<text x="395.70" y="416.20" font-size="6.8" font-weight="bold" textLength="18.5" lengthAdjust="spacingAndGlyphs">CFSE</text>
<polygon points="457.70,311.00 458.00,309.50 470.00,309.00 475.00,303.80 476.90,284.60 477.90,265.40 479.20,255.80 480.80,265.40 482.30,284.60 484.60,300.00 487.50,305.80 492.30,308.70 495.20,310.00 495.20,311.00" fill="#bebebe" stroke="none" stroke-width="0"/>
<rect x="430" y="309.60" width="65.20" height="1.6" fill="#c4c4c4"/>
<polyline points="314.50,310.80 315.51,310.54 316.52,310.28 317.52,310.97 318.53,310.14 319.54,310.77 320.55,310.52 321.55,310.07 322.56,310.69 323.57,310.01 324.58,310.55 325.58,310.03 326.59,310.04 327.60,310.49 328.61,311.04 329.62,310.04 330.62,310.17 331.63,310.72 332.64,311.15 333.65,310.62 334.65,310.35 335.66,311.14 336.67,309.83 337.68,310.95 338.68,310.14 339.69,309.92 340.70,309.86 341.71,310.12 342.72,310.81 343.72,309.91 344.73,310.45 345.74,310.52 346.75,310.13 347.75,310.36 348.76,309.66 349.77,309.64 350.78,309.83 351.78,310.48 352.79,310.11 353.80,309.94 354.81,310.30 355.82,310.10 356.82,309.87 357.83,310.55 358.84,310.40 359.85,309.75 360.85,310.20 361.86,310.11 362.87,310.59 363.88,310.37 364.88,309.73 365.89,310.69 366.90,309.47 367.90,309.86 368.91,310.32 369.91,309.45 370.92,309.90 371.92,309.25 372.93,310.11 373.93,310.22 374.93,309.93 375.94,310.33 376.94,309.52 377.95,310.03 378.95,309.87 379.96,309.83 380.96,309.63 381.97,310.15 382.97,310.27 383.97,309.59 384.98,309.84 385.98,308.97 386.99,309.85 387.99,309.75 389.00,310.21 390.00,309.95 391.00,309.21 392.00,309.36 393.00,309.77 394.00,308.87 395.00,309.50 396.00,309.10 397.00,309.03 398.00,308.96 399.00,309.97 400.00,309.08 401.15,308.95 402.30,308.85 403.45,309.22 404.60,307.81 405.75,308.21 406.90,308.24 408.05,308.59 409.20,308.38 410.35,308.33 411.50,307.39 412.55,307.41 413.59,307.16 414.64,307.72 415.68,307.65 416.73,306.35 417.77,306.21 418.82,306.12 419.86,305.94 420.91,306.12 421.95,306.10 423.00,305.47 424.11,304.56 425.23,304.60 426.34,303.99 427.46,303.72 428.57,303.72 429.69,302.81 430.80,302.02 431.90,301.46 433.00,300.85 434.10,299.28 435.20,299.76 436.30,298.89 437.40,298.32 438.50,297.52 439.77,295.98 441.03,295.03 442.30,293.64 443.60,291.19 444.90,287.19 446.20,283.99 447.60,279.39 449.00,274.53 450.00,269.98 451.00,264.77 452.90,255.10 454.80,253.71 456.25,255.39 457.70,257.51 459.15,258.49 460.60,261.12 462.05,261.71 463.50,262.01 464.90,265.50 466.30,268.99 467.75,274.31 469.20,279.27 470.65,283.19 472.10,286.29 473.55,289.85 475.00,294.18 476.27,295.89 477.53,298.18 478.80,300.78 479.96,301.63 481.12,303.38 482.28,303.41 483.44,304.17 484.60,306.43 485.76,306.22 486.92,306.07 488.08,307.00 489.24,306.66 490.40,307.74 491.60,308.84 492.80,309.16 494.00,309.40 495.20,309.60" fill="none" stroke="#7a7a7a" stroke-width="0.8" stroke-linejoin="round"/>
<polyline points="314.50,310.80 315.52,310.02 316.54,310.34 317.56,309.69 318.58,311.61 319.60,310.82 320.62,311.60 321.64,310.14 322.66,309.79 323.68,311.65 324.70,312.19 325.72,311.75 326.74,311.59 327.76,311.61 328.78,311.34 329.80,309.69 330.82,310.60 331.84,310.07 332.86,309.00 333.88,308.99 334.90,309.77 335.92,309.69 336.94,311.06 337.96,311.89 338.98,310.25 340.00,311.80 341.04,311.94 342.08,311.81 343.12,309.90 344.15,309.41 345.19,309.41 346.23,309.29 347.27,309.29 348.31,310.61 349.35,311.47 350.38,311.26 351.42,310.08 352.46,310.61 353.50,311.06 354.62,308.59 355.73,310.25 356.85,310.86 357.97,310.27 359.08,309.98 360.20,308.93 361.33,307.30 362.47,308.59 363.60,306.46 364.70,307.40 365.80,307.38 366.90,304.97 367.92,304.56 368.95,305.88 369.98,304.74 371.00,302.54 372.00,302.36 373.00,302.38 374.00,304.75 375.00,304.38 376.00,301.99 377.00,303.89 378.00,304.11 379.00,302.80 380.00,301.55 381.00,301.91 382.00,300.29 383.00,299.65 384.02,302.66 385.05,301.58 386.08,301.14 387.10,302.39 388.10,300.61 389.10,301.84 390.10,301.52 391.10,299.38 392.45,298.16 393.80,296.94 394.82,296.27 395.85,296.88 396.88,295.33 397.90,295.34 398.95,293.27 400.00,294.61 401.30,292.08 402.60,291.67 403.95,292.97 405.30,294.89 406.50,293.65 407.70,295.54 408.80,294.31 409.90,294.50 411.00,294.58 412.10,293.38 413.20,295.16 414.30,294.76 415.40,294.61 416.70,296.06 418.00,292.95 419.07,293.68 420.13,294.25 421.20,293.48 422.40,292.24 423.60,292.36 424.80,291.98 426.00,292.21 427.27,288.44 428.53,288.29 429.80,285.70 431.10,286.75 432.40,289.30 433.70,289.42 434.97,290.23 436.23,291.50 437.50,292.62 438.95,289.72 440.40,288.86 442.30,280.82 443.75,273.14 445.20,266.02 446.65,260.45 448.10,255.91 449.60,254.13 451.00,262.91 452.90,271.84 454.35,279.10 455.80,286.01 457.70,287.73 458.97,289.62 460.23,291.79 461.50,292.39 462.95,289.69 464.40,289.19 465.85,292.11 467.30,292.83 468.75,295.77 470.20,297.63 471.65,301.94 473.10,304.71 474.37,305.40 475.63,303.36 476.90,305.49 478.06,305.69 479.22,304.42 480.38,307.17 481.54,307.82 482.70,305.80 483.80,308.43 484.90,306.95 486.00,307.52 487.10,309.41 488.20,309.19 489.30,307.33 490.40,308.48 491.60,309.07 492.80,308.84 494.00,308.70 495.20,310.00" fill="none" stroke="#111" stroke-width="1.15" stroke-linejoin="round"/>
<rect x="314.50" y="254.20" width="180.70" height="57.00" fill="none" stroke="#000" stroke-width="1.25"/>
<line x1="311.30" y1="311.20" x2="314.50" y2="311.20" stroke="#000" stroke-width="1.1"/>
<line x1="311.90" y1="307.40" x2="314.50" y2="307.40" stroke="#000" stroke-width="0.9"/>
<line x1="311.90" y1="303.60" x2="314.50" y2="303.60" stroke="#000" stroke-width="0.9"/>
<line x1="311.90" y1="299.80" x2="314.50" y2="299.80" stroke="#000" stroke-width="0.9"/>
<line x1="311.90" y1="296.00" x2="314.50" y2="296.00" stroke="#000" stroke-width="0.9"/>
<line x1="311.90" y1="292.20" x2="314.50" y2="292.20" stroke="#000" stroke-width="0.9"/>
<line x1="311.90" y1="288.40" x2="314.50" y2="288.40" stroke="#000" stroke-width="0.9"/>
<line x1="311.90" y1="284.60" x2="314.50" y2="284.60" stroke="#000" stroke-width="0.9"/>
<line x1="311.90" y1="280.80" x2="314.50" y2="280.80" stroke="#000" stroke-width="0.9"/>
<line x1="311.90" y1="277.00" x2="314.50" y2="277.00" stroke="#000" stroke-width="0.9"/>
<line x1="311.90" y1="273.20" x2="314.50" y2="273.20" stroke="#000" stroke-width="0.9"/>
<line x1="311.90" y1="269.40" x2="314.50" y2="269.40" stroke="#000" stroke-width="0.9"/>
<line x1="311.90" y1="265.60" x2="314.50" y2="265.60" stroke="#000" stroke-width="0.9"/>
<line x1="311.90" y1="261.80" x2="314.50" y2="261.80" stroke="#000" stroke-width="0.9"/>
<line x1="311.90" y1="258.00" x2="314.50" y2="258.00" stroke="#000" stroke-width="0.9"/>
<line x1="311.30" y1="254.20" x2="314.50" y2="254.20" stroke="#000" stroke-width="1.1"/>
<line x1="314.50" y1="311.20" x2="314.50" y2="314.00" stroke="#000" stroke-width="0.9"/>
<line x1="334.28" y1="311.20" x2="334.28" y2="313.00" stroke="#000" stroke-width="0.9"/>
<line x1="345.85" y1="311.20" x2="345.85" y2="313.00" stroke="#000" stroke-width="0.9"/>
<line x1="354.06" y1="311.20" x2="354.06" y2="313.00" stroke="#000" stroke-width="0.9"/>
<line x1="360.42" y1="311.20" x2="360.42" y2="313.00" stroke="#000" stroke-width="0.9"/>
<line x1="365.62" y1="311.20" x2="365.62" y2="313.00" stroke="#000" stroke-width="0.9"/>
<line x1="370.02" y1="311.20" x2="370.02" y2="313.00" stroke="#000" stroke-width="0.9"/>
<line x1="373.83" y1="311.20" x2="373.83" y2="313.00" stroke="#000" stroke-width="0.9"/>
<line x1="377.19" y1="311.20" x2="377.19" y2="313.00" stroke="#000" stroke-width="0.9"/>
<line x1="380.20" y1="311.20" x2="380.20" y2="314.00" stroke="#000" stroke-width="0.9"/>
<line x1="399.98" y1="311.20" x2="399.98" y2="313.00" stroke="#000" stroke-width="0.9"/>
<line x1="411.55" y1="311.20" x2="411.55" y2="313.00" stroke="#000" stroke-width="0.9"/>
<line x1="419.76" y1="311.20" x2="419.76" y2="313.00" stroke="#000" stroke-width="0.9"/>
<line x1="426.12" y1="311.20" x2="426.12" y2="313.00" stroke="#000" stroke-width="0.9"/>
<line x1="431.32" y1="311.20" x2="431.32" y2="313.00" stroke="#000" stroke-width="0.9"/>
<line x1="435.72" y1="311.20" x2="435.72" y2="313.00" stroke="#000" stroke-width="0.9"/>
<line x1="439.53" y1="311.20" x2="439.53" y2="313.00" stroke="#000" stroke-width="0.9"/>
<line x1="442.89" y1="311.20" x2="442.89" y2="313.00" stroke="#000" stroke-width="0.9"/>
<line x1="445.90" y1="311.20" x2="445.90" y2="314.00" stroke="#000" stroke-width="0.9"/>
<line x1="465.68" y1="311.20" x2="465.68" y2="313.00" stroke="#000" stroke-width="0.9"/>
<line x1="477.25" y1="311.20" x2="477.25" y2="313.00" stroke="#000" stroke-width="0.9"/>
<line x1="485.46" y1="311.20" x2="485.46" y2="313.00" stroke="#000" stroke-width="0.9"/>
<line x1="491.82" y1="311.20" x2="491.82" y2="313.00" stroke="#000" stroke-width="0.9"/>
<text x="309.50" y="322.70" font-size="7.4">10</text>
<text x="317.70" y="318.80" font-size="5.4">1</text>
<text x="375.20" y="322.70" font-size="7.4">10</text>
<text x="383.40" y="318.80" font-size="5.4">2</text>
<text x="440.90" y="322.70" font-size="7.4">10</text>
<text x="449.10" y="318.80" font-size="5.4">3</text>
<polygon points="461.50,389.20 461.50,387.60 463.50,383.80 466.30,366.50 468.30,339.50 469.60,333.80 471.50,339.50 473.10,362.60 475.00,378.00 476.90,383.80 482.70,386.70 490.40,388.00 495.20,388.60 495.20,389.20" fill="#bebebe" stroke="none" stroke-width="0"/>
<rect x="421" y="387.60" width="74.20" height="1.6" fill="#c4c4c4"/>
<polyline points="314.70,389.00 315.71,388.74 316.71,389.30 317.72,388.31 318.73,389.06 319.73,388.89 320.74,388.30 321.75,388.73 322.75,389.14 323.76,388.98 324.77,388.35 325.77,389.63 326.78,389.35 327.79,389.60 328.79,388.38 329.80,388.61 330.81,388.28 331.81,389.32 332.82,388.60 333.83,388.40 334.83,388.80 335.84,389.48 336.85,389.35 337.85,388.56 338.86,388.40 339.87,389.48 340.87,388.98 341.88,389.16 342.89,388.30 343.89,388.25 344.90,389.13 345.91,388.76 346.91,388.26 347.92,389.47 348.93,389.04 349.93,389.27 350.94,388.26 351.95,389.33 352.95,388.22 353.96,389.33 354.97,388.76 355.97,388.59 356.98,388.89 357.99,389.41 358.99,388.48 360.00,388.28 361.00,388.81 362.00,388.38 363.00,388.17 364.00,388.22 365.00,388.04 366.00,388.22 367.00,388.35 368.00,388.31 369.00,388.92 370.00,388.24 371.00,388.51 372.00,388.03 373.00,388.24 374.00,387.75 375.00,388.05 376.00,387.69 377.00,388.67 378.00,388.39 379.00,387.86 380.00,388.23 381.00,388.85 382.00,387.66 383.00,388.63 384.00,388.07 385.00,388.13 386.00,388.58 387.00,387.93 388.00,388.06 389.00,388.29 390.00,388.68 391.00,387.65 392.00,388.21 393.00,387.90 394.00,387.67 395.00,387.22 396.00,387.01 397.00,386.47 398.00,386.44 399.00,386.23 400.00,387.04 401.07,386.04 402.13,385.58 403.20,385.15 404.27,385.89 405.33,385.61 406.40,385.01 407.47,384.14 408.53,383.76 409.60,383.51 410.70,383.20 411.80,382.23 412.90,382.10 414.00,381.30 415.10,381.73 416.20,381.20 417.30,380.07 418.44,378.48 419.58,378.33 420.72,376.25 421.86,375.16 423.00,373.50 424.30,372.10 425.60,370.30 426.90,368.40 428.20,364.78 429.50,362.01 430.80,358.11 432.25,351.72 433.70,344.73 435.10,340.36 436.50,335.06 437.95,334.08 439.40,333.53 440.70,334.06 442.00,335.19 443.30,335.74 444.57,335.28 445.83,334.39 447.10,333.70 448.40,335.33 449.70,336.05 451.00,337.36 452.27,340.21 453.53,340.98 454.80,343.71 456.25,345.50 457.70,346.56 459.15,351.07 460.60,354.55 462.05,358.48 463.50,362.93 464.90,366.89 466.30,369.80 467.75,373.68 469.20,377.01 470.50,379.07 471.80,380.63 473.10,382.26 474.20,382.47 475.30,383.46 476.40,383.73 477.50,384.30 478.60,384.21 479.70,384.49 480.80,385.19 481.83,385.71 482.86,385.56 483.89,386.79 484.91,386.61 485.94,386.91 486.97,387.12 488.00,387.40 489.03,387.34 490.06,386.87 491.09,388.19 492.11,388.33 493.14,388.19 494.17,388.44 495.20,388.60" fill="none" stroke="#7a7a7a" stroke-width="0.8" stroke-linejoin="round"/>
<polyline points="314.70,389.00 315.72,389.52 316.74,387.64 317.76,389.80 318.78,388.26 319.80,387.70 320.82,388.33 321.84,389.83 322.86,388.16 323.88,389.89 324.90,390.66 325.92,389.13 326.94,388.78 327.96,389.11 328.98,389.77 330.00,390.05 331.03,389.45 332.07,389.41 333.10,387.47 334.13,387.57 335.17,387.79 336.20,389.23 337.23,387.70 338.27,388.42 339.30,386.51 340.33,386.54 341.37,387.09 342.40,388.25 343.51,388.39 344.63,388.41 345.74,387.25 346.86,388.04 347.97,387.94 349.09,388.02 350.20,386.98 351.35,388.76 352.50,385.84 353.65,387.63 354.80,386.80 355.83,383.21 356.87,383.97 357.90,384.47 358.93,384.30 359.97,381.99 361.00,380.76 362.03,379.40 363.07,380.59 364.10,377.07 365.13,377.09 366.17,374.52 367.20,374.58 368.23,375.30 369.27,372.02 370.30,373.57 371.33,371.93 372.37,372.49 373.40,371.25 374.43,368.84 375.47,370.07 376.50,367.86 377.53,365.48 378.57,364.51 379.60,365.17 380.78,363.49 381.95,361.47 383.12,359.40 384.30,358.50 385.45,356.86 386.60,356.99 387.75,352.76 388.90,353.60 390.07,352.34 391.25,348.48 392.43,349.51 393.60,347.28 394.75,346.34 395.90,342.83 397.05,341.54 398.20,340.06 400.00,341.10 401.05,336.74 402.10,332.95 402.90,334.47 404.05,334.88 405.20,335.05 405.80,337.33 407.50,336.07 408.55,340.41 409.60,348.59 411.05,341.60 412.50,336.85 413.95,341.49 415.40,344.31 416.85,342.99 418.30,342.96 419.75,344.13 421.20,345.30 422.60,348.57 424.00,353.32 425.30,353.11 426.60,351.56 427.90,351.80 429.17,347.72 430.43,347.98 431.70,345.14 433.15,340.36 434.60,334.26 436.50,336.02 437.95,339.56 439.40,346.67 440.85,347.01 442.30,351.01 443.75,354.45 445.20,358.15 446.47,362.13 447.73,365.46 449.00,365.73 450.45,369.85 451.90,371.56 453.80,365.68 455.25,365.66 456.70,365.44 457.70,368.27 458.70,371.27 460.10,374.50 461.50,374.19 462.80,374.57 464.10,378.03 465.40,379.59 466.67,378.47 467.93,378.11 469.20,378.92 470.50,378.92 471.80,380.06 473.10,379.59 474.37,381.03 475.63,382.06 476.90,384.02 478.06,385.42 479.22,385.36 480.38,384.66 481.54,385.04 482.70,385.78 483.80,385.45 484.90,385.47 486.00,384.73 487.10,385.56 488.20,387.91 489.30,385.36 490.40,386.71 491.60,387.59 492.80,388.81 494.00,387.22 495.20,388.60" fill="none" stroke="#111" stroke-width="1.15" stroke-linejoin="round"/>
<rect x="314.70" y="332.40" width="180.50" height="56.80" fill="none" stroke="#000" stroke-width="1.25"/>
<line x1="311.50" y1="389.20" x2="314.70" y2="389.20" stroke="#000" stroke-width="1.1"/>
<line x1="312.10" y1="382.10" x2="314.70" y2="382.10" stroke="#000" stroke-width="0.9"/>
<line x1="312.10" y1="375.00" x2="314.70" y2="375.00" stroke="#000" stroke-width="0.9"/>
<line x1="312.10" y1="367.90" x2="314.70" y2="367.90" stroke="#000" stroke-width="0.9"/>
<line x1="312.10" y1="360.80" x2="314.70" y2="360.80" stroke="#000" stroke-width="0.9"/>
<line x1="312.10" y1="353.70" x2="314.70" y2="353.70" stroke="#000" stroke-width="0.9"/>
<line x1="312.10" y1="346.60" x2="314.70" y2="346.60" stroke="#000" stroke-width="0.9"/>
<line x1="312.10" y1="339.50" x2="314.70" y2="339.50" stroke="#000" stroke-width="0.9"/>
<line x1="311.50" y1="332.40" x2="314.70" y2="332.40" stroke="#000" stroke-width="1.1"/>
<line x1="314.70" y1="389.20" x2="314.70" y2="392.00" stroke="#000" stroke-width="0.9"/>
<line x1="334.48" y1="389.20" x2="334.48" y2="391.00" stroke="#000" stroke-width="0.9"/>
<line x1="346.05" y1="389.20" x2="346.05" y2="391.00" stroke="#000" stroke-width="0.9"/>
<line x1="354.26" y1="389.20" x2="354.26" y2="391.00" stroke="#000" stroke-width="0.9"/>
<line x1="360.62" y1="389.20" x2="360.62" y2="391.00" stroke="#000" stroke-width="0.9"/>
<line x1="365.82" y1="389.20" x2="365.82" y2="391.00" stroke="#000" stroke-width="0.9"/>
<line x1="370.22" y1="389.20" x2="370.22" y2="391.00" stroke="#000" stroke-width="0.9"/>
<line x1="374.03" y1="389.20" x2="374.03" y2="391.00" stroke="#000" stroke-width="0.9"/>
<line x1="377.39" y1="389.20" x2="377.39" y2="391.00" stroke="#000" stroke-width="0.9"/>
<line x1="380.40" y1="389.20" x2="380.40" y2="392.00" stroke="#000" stroke-width="0.9"/>
<line x1="400.18" y1="389.20" x2="400.18" y2="391.00" stroke="#000" stroke-width="0.9"/>
<line x1="411.75" y1="389.20" x2="411.75" y2="391.00" stroke="#000" stroke-width="0.9"/>
<line x1="419.96" y1="389.20" x2="419.96" y2="391.00" stroke="#000" stroke-width="0.9"/>
<line x1="426.32" y1="389.20" x2="426.32" y2="391.00" stroke="#000" stroke-width="0.9"/>
<line x1="431.52" y1="389.20" x2="431.52" y2="391.00" stroke="#000" stroke-width="0.9"/>
<line x1="435.92" y1="389.20" x2="435.92" y2="391.00" stroke="#000" stroke-width="0.9"/>
<line x1="439.73" y1="389.20" x2="439.73" y2="391.00" stroke="#000" stroke-width="0.9"/>
<line x1="443.09" y1="389.20" x2="443.09" y2="391.00" stroke="#000" stroke-width="0.9"/>
<line x1="446.10" y1="389.20" x2="446.10" y2="392.00" stroke="#000" stroke-width="0.9"/>
<line x1="465.88" y1="389.20" x2="465.88" y2="391.00" stroke="#000" stroke-width="0.9"/>
<line x1="477.45" y1="389.20" x2="477.45" y2="391.00" stroke="#000" stroke-width="0.9"/>
<line x1="485.66" y1="389.20" x2="485.66" y2="391.00" stroke="#000" stroke-width="0.9"/>
<line x1="492.02" y1="389.20" x2="492.02" y2="391.00" stroke="#000" stroke-width="0.9"/>
<text x="309.70" y="400.70" font-size="7.4">10</text>
<text x="317.90" y="396.80" font-size="5.4">1</text>
<text x="375.40" y="400.70" font-size="7.4">10</text>
<text x="383.60" y="396.80" font-size="5.4">2</text>
<text x="441.10" y="400.70" font-size="7.4">10</text>
<text x="449.30" y="396.80" font-size="5.4">3</text>
<text x="305.6" y="260.8" font-size="7.0" font-weight="bold" transform="rotate(-90 305.6 260.8)">90</text>
<text x="305.6" y="313.3" font-size="7.0" font-weight="bold" transform="rotate(-90 305.6 313.3)">0</text>
<text x="305.6" y="338.2" font-size="7.0" font-weight="bold" transform="rotate(-90 305.6 338.2)">80</text>
<text x="305.6" y="391.5" font-size="7.0" font-weight="bold" transform="rotate(-90 305.6 391.5)">0</text>
<text x="321.20" y="265.90" font-size="9.5" font-weight="bold" textLength="37.8" lengthAdjust="spacingAndGlyphs">wildtype</text>
<rect x="318.90" y="271.40" width="7.40" height="6.80" fill="#c8c8c8" stroke="#8a8a8a" stroke-width="0.7"/>
<text x="332.10" y="276.60" font-size="6.6" font-weight="bold" textLength="39.6" lengthAdjust="spacingAndGlyphs">unstimulated</text>
<line x1="318.10" y1="283.50" x2="326.30" y2="283.50" stroke="#111" stroke-width="1.3"/>
<text x="332.10" y="285.80" font-size="6.6" font-weight="bold" textLength="29.4" lengthAdjust="spacingAndGlyphs">PMA/Iono</text>
<line x1="318.10" y1="291.60" x2="326.30" y2="291.60" stroke="#7a7a7a" stroke-width="0.8"/>
<text x="332.10" y="294.30" font-size="6.6" font-weight="bold" textLength="54.4" lengthAdjust="spacingAndGlyphs">PMA/Iono + inhib.</text>
<text x="321.30" y="344.90" font-size="9.5" font-weight="bold" font-style="italic" textLength="51.5" lengthAdjust="spacingAndGlyphs">FasL Δintra</text>
<rect x="318.30" y="350.50" width="7.20" height="6.60" fill="#c8c8c8" stroke="#8a8a8a" stroke-width="0.7"/>
<text x="331.00" y="355.90" font-size="6.6" font-weight="bold" textLength="40.0" lengthAdjust="spacingAndGlyphs">unstimulated</text>
<line x1="317.80" y1="361.80" x2="326.40" y2="361.80" stroke="#111" stroke-width="1.2"/>
<text x="331.00" y="364.10" font-size="6.6" font-weight="bold" textLength="30.0" lengthAdjust="spacingAndGlyphs">PMA/Iono</text>
<line x1="317.80" y1="369.60" x2="326.40" y2="369.60" stroke="#8a8a8a" stroke-width="0.8"/>
<text x="331.00" y="373.00" font-size="6.6" font-weight="bold" textLength="34.9" lengthAdjust="spacingAndGlyphs">PMA/Iono +</text>
<text x="331.00" y="380.00" font-size="6.6" font-weight="bold" textLength="17.4" lengthAdjust="spacingAndGlyphs">inhib.</text>
</svg>
</body></html>
